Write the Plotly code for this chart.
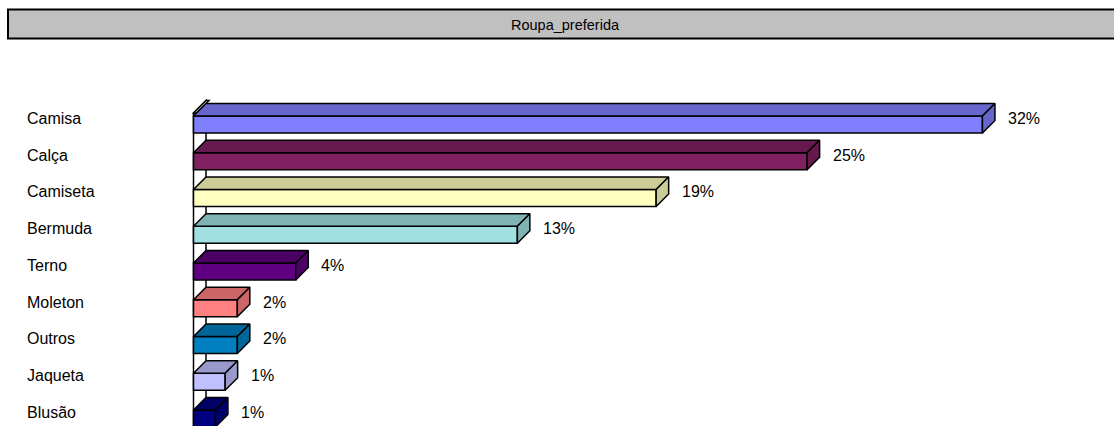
import plotly.graph_objects as go

# ---------------- data ----------------
categories = ["Camisa", "Calça", "Camiseta", "Bermuda", "Terno", "Moleton", "Outros", "Jaqueta", "Blusão"]
values = [32.4, 25.2, 19.0, 13.3, 4.2, 1.8, 1.8, 1.3, 0.9]
value_labels = ["32%", "25%", "19%", "13%", "4%", "2%", "2%", "1%", "1%"]
title_text = "Roupa_preferida"

front_colors = ["#8080FF", "#802060", "#FFFFC0", "#A0E0E0", "#600080",
                "#FF8080", "#0080C0", "#C0C0FF", "#000080"]

# ---------------- layout geometry ----------------
W, H = 1114, 426
X_ORIGIN_PX = 193.5
PX_PER_UNIT_X = 24.35
ROW0_PX = 124.5
PX_PER_ROW = 36.75

x_range = [-X_ORIGIN_PX / PX_PER_UNIT_X, (W - X_ORIGIN_PX) / PX_PER_UNIT_X]
y_range = [(H - ROW0_PX) / PX_PER_ROW, -ROW0_PX / PX_PER_ROW]  # reversed

DEPTH_PX = 12.5
dx = DEPTH_PX / PX_PER_UNIT_X
dy = DEPTH_PX / PX_PER_ROW
bw = 17 / PX_PER_ROW
px_x = 1 / PX_PER_UNIT_X
px_y = 1 / PX_PER_ROW


def shade(hexcol, f=0.8):
    h = hexcol.lstrip("#")
    r, g, b = (int(h[i:i + 2], 16) for i in (0, 2, 4))
    return "#%02X%02X%02X" % (int(r * f), int(g * f), int(b * f))


FONT = "Liberation Sans, Arial, sans-serif"
positions = list(range(len(categories)))

fig = go.Figure()

# front faces
fig.add_trace(go.Bar(
    x=values, y=positions, orientation="h", width=bw,
    marker=dict(color=front_colors, line=dict(color="black", width=1.5)),
    hoverinfo="skip", showlegend=False,
))

# top and right faces
for i, (v, c) in enumerate(zip(values, front_colors)):
    yt = i - bw / 2
    yb = i + bw / 2
    sc = shade(c)
    fig.add_trace(go.Scatter(
        x=[0, v, v + dx, dx, 0], y=[yt, yt, yt - dy, yt - dy, yt],
        mode="lines", fill="toself", fillcolor=sc,
        line=dict(color="black", width=1.5), hoverinfo="skip", showlegend=False,
    ))
    fig.add_trace(go.Scatter(
        x=[v, v, v + dx, v + dx, v], y=[yt, yb, yb - dy, yt - dy, yt],
        mode="lines", fill="toself", fillcolor=sc,
        line=dict(color="black", width=1.5), hoverinfo="skip", showlegend=False,
    ))

shapes = []
# side wall
yw = (0 - bw / 2) - 3 * px_y
ybot = y_range[0] + 1
shapes.append(dict(
    type="path", xref="x", yref="y", layer="below",
    path=f"M 0,{ybot} L 0,{yw} L {dx},{yw - dy} L {dx},{ybot} Z",
    fillcolor="white", line=dict(color="black", width=1.5),
))
shapes.append(dict(
    type="path", xref="x", yref="y", layer="below",
    path=f"M 0,{yw} L {dx},{yw - dy} L {dx + 3 * px_x},{yw - dy} L {3 * px_x},{yw} Z",
    fillcolor="white", line=dict(color="black", width=1.5),
))
# title box
shapes.append(dict(
    type="rect", xref="paper", yref="paper",
    x0=8 / W, x1=1.02, y0=1 - 38.5 / H, y1=1 - 9.5 / H,
    fillcolor="#C0C0C0", line=dict(color="black", width=2),
))

annotations = []
annotations.append(dict(
    text=title_text, xref="paper", yref="paper", x=565 / W, y=1 - 24.5 / H,
    xanchor="center", yanchor="middle", showarrow=False,
    font=dict(family=FONT, size=14.5, color="black"),
))
for i, (cat, v, lab) in enumerate(zip(categories, values, value_labels)):
    ymid = i - dy / 2
    annotations.append(dict(
        text=cat, xref="paper", yref="y", x=25 / W, y=ymid,
        xanchor="left", yanchor="middle", showarrow=False,
        font=dict(family=FONT, size=16, color="black"),
    ))
    annotations.append(dict(
        text=lab, xref="x", yref="y", x=v + 23.5 * px_x, y=ymid,
        xanchor="left", yanchor="middle", showarrow=False,
        font=dict(family=FONT, size=16, color="black"),
    ))

fig.update_layout(
    width=W, height=H, autosize=False,
    margin=dict(l=0, r=0, t=0, b=0, pad=0),
    paper_bgcolor="white", plot_bgcolor="rgba(0,0,0,0)",
    xaxis=dict(range=x_range, visible=False, fixedrange=True),
    yaxis=dict(range=y_range, visible=False, fixedrange=True),
    shapes=shapes, annotations=annotations, showlegend=False,
)

fig.write_html(
    "out.html",
    config={"displayModeBar": False},
    post_script="document.documentElement.style.margin='0';document.body.style.margin='0';"
                "document.body.style.padding='0';document.body.style.overflow='hidden';",
)
